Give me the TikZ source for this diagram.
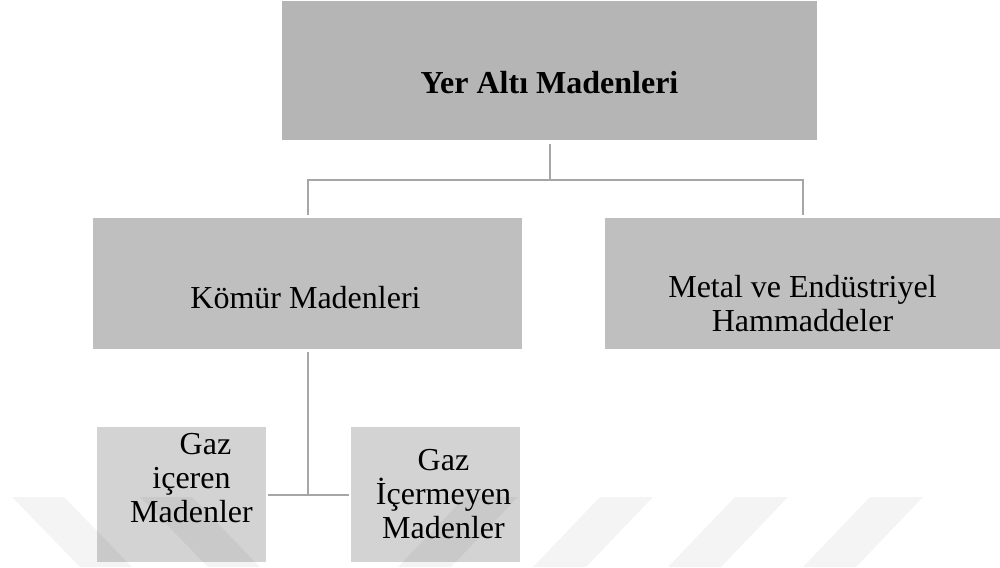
\documentclass[tikz,border=0pt]{standalone}
\usepackage{fontspec}
\setmainfont{Liberation Serif}
\definecolor{boxtop}{HTML}{B5B5B5}
\definecolor{boxmid}{HTML}{BFBFBF}
\definecolor{boxlow}{HTML}{D3D3D3}
\definecolor{connline}{HTML}{A6A6A6}
\begin{document}
\begin{tikzpicture}[x=0.5pt, y=-0.5pt,
		box/.style={rectangle, inner sep=0pt},
		lbl/.style={font=\fontsize{16}{17}\selectfont, align=center},
		conn/.style={draw=connline, line width=1pt},
		wmstripe/.style={fill=black, fill opacity=0.045}]
			\useasboundingbox (0,0) rectangle (1000,567);
			\coordinate (top)  at (549.5,70.5);
			\coordinate (coal) at (307.5,283.5);
			\coordinate (ore)  at (802.5,283.5);
			\coordinate (gas)  at (181.5,494.5);
			\coordinate (nogas) at (435.5,494.5);
			\node[box, fill=boxtop, minimum width=267.5pt, minimum height=69.5pt,
				label={[lbl, yshift=-6pt]center:\textbf{Yer Altı Madenleri}}] (yeralti) at (top) {};
			\node[box, fill=boxmid, minimum width=214.5pt, minimum height=65.5pt,
				label={[lbl, xshift=-1pt, yshift=-7pt]center:Kömür Madenleri}] (komur) at (coal) {};
			\node[box, fill=boxmid, minimum width=197.5pt, minimum height=65.5pt,
				label={[lbl, yshift=-10pt]center:Metal ve Endüstriyel\\Hammaddeler}] (metal) at (ore) {};
			\node[box, fill=boxlow, minimum width=84.5pt, minimum height=67.5pt,
				label={[lbl, xshift=5pt, yshift=8pt]center:\hspace*{14pt}Gaz\\içeren\\Madenler}] (gaziceren) at (gas) {};
			\node[box, fill=boxlow, minimum width=84.5pt, minimum height=67.5pt,
				label={[lbl, xshift=4pt]center:Gaz\\İçermeyen\\Madenler}] (gazicermeyen) at (nogas) {};
			\coordinate (split) at (549.5,180);
			\coordinate (fork) at (komur.south |- gaziceren.east);
			\draw[conn, shorten <=2pt, shorten >=1.5pt] (yeralti.south) -- (split) -| (komur.north);
			\draw[conn, shorten >=1.5pt] (split) -| (metal.north);
			\draw[conn, shorten <=1.5pt] (komur.south) -- (fork);
			\draw[conn, shorten <=1pt, shorten >=1pt] (gaziceren.east) -- (gazicermeyen.west);
			\foreach \sx in {12,140}
				\fill[wmstripe] (\sx,497) -- ++(52,0) -- ++(68,70) -- ++(-52,0) -- cycle;
			\foreach \sx in {465,600,735,870}
				\fill[wmstripe] (\sx,497) -- ++(53,0) -- ++(-67,70) -- ++(-53,0) -- cycle;
		\end{tikzpicture}
\end{document}
